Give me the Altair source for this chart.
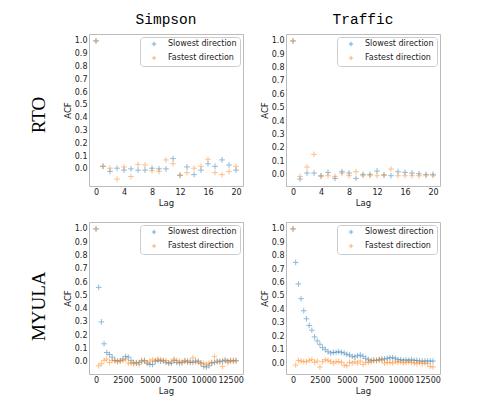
import altair as alt
import pandas as pd

SERIES = ["Slowest direction", "Fastest direction"]
COLORS = ["#1f77b4", "#ff7f0e"]

lag_short = list(range(0, 21))
lag_long = list(range(0, 13001, 250))

rto_simpson_slow = [1.0, 0.02, -0.02, 0.005, -0.01, 0.0, -0.01, -0.01, 0.005, 0.0, 0.0,
                    0.08, -0.05, 0.015, -0.045, -0.01, 0.04, 0.02, 0.07, 0.03, -0.01]
rto_simpson_fast = [1.0, 0.02, 0.005, -0.08, 0.015, -0.06, 0.035, 0.03, -0.015, -0.02, 0.07,
                    0.04, -0.05, -0.03, 0.005, 0.02, 0.075, -0.03, -0.045, -0.02, 0.02]
rto_traffic_slow = [1.0, -0.035, 0.01, 0.01, -0.01, 0.015, -0.03, 0.02, 0.01, -0.03, 0.0,
                    0.0, 0.025, -0.005, -0.01, 0.02, 0.015, 0.01, 0.005, 0.0, 0.0]
rto_traffic_fast = [1.0, -0.015, 0.055, 0.15, -0.015, -0.01, -0.015, 0.01, -0.01, 0.02, -0.01,
                    -0.01, -0.01, -0.005, 0.04, -0.01, -0.01, -0.01, -0.01, -0.01, -0.01]

myula_simpson_slow = [1.0, 0.56, 0.30, 0.135, 0.07, 0.055, 0.035, 0.01, 0.005, 0.01,
                      0.02, 0.04, 0.035, 0.01, -0.005, -0.01, -0.005, 0.005, 0.01, -0.01,
                      -0.02, -0.02, 0.005, 0.01, 0.005, 0.01, -0.005, -0.01, -0.01, 0.01,
                      -0.005, -0.01, -0.005, 0.005, 0.005, -0.005, -0.005, 0.005, 0.005, -0.01,
                      -0.035, -0.04, -0.03, -0.01, -0.005, 0.005, 0.0, 0.005, 0.01, 0.005,
                      0.01, 0.005, 0.01]
myula_simpson_fast = [1.0, -0.03, -0.015, 0.01, 0.02, -0.005, 0.01, 0.01, 0.0, 0.005,
                      0.01, 0.02, -0.01, -0.01, -0.015, -0.005, -0.02, 0.01, 0.005, -0.01,
                      0.005, 0.015, 0.005, 0.02, 0.015, 0.005, 0.01, -0.01, 0.0, 0.02,
                      0.01, 0.005, -0.005, 0.01, -0.005, 0.005, 0.03, 0.0, -0.005, -0.015,
                      -0.01, -0.02, -0.01, -0.005, 0.04, 0.0, 0.005, -0.035, 0.015, -0.005,
                      0.005, 0.01, 0.005]
myula_traffic_slow = [1.0, 0.75, 0.59, 0.48, 0.39, 0.33, 0.28, 0.245, 0.195, 0.165,
                      0.14, 0.115, 0.10, 0.085, 0.075, 0.08, 0.08, 0.085, 0.08, 0.075,
                      0.065, 0.06, 0.05, 0.045, 0.055, 0.06, 0.05, 0.035, 0.025, 0.02,
                      0.02, 0.02, 0.025, 0.03, 0.03, 0.035, 0.04, 0.04, 0.035, 0.025,
                      0.025, 0.02, 0.025, 0.02, 0.025, 0.02, 0.02, 0.015, 0.015, 0.015,
                      0.015, 0.015, 0.015]
myula_traffic_fast = [1.0, -0.015, 0.02, 0.015, 0.01, 0.01, 0.02, 0.025, 0.005, 0.015,
                      -0.03, 0.01, 0.025, 0.02, 0.01, 0.0, 0.01, 0.01, 0.005, -0.015,
                      -0.02, 0.005, 0.0, 0.01, 0.0, 0.015, -0.01, 0.005, 0.005, 0.01,
                      0.02, 0.02, 0.025, 0.02, 0.0, 0.005, 0.005, 0.0, 0.01, 0.005,
                      0.01, 0.0, 0.005, 0.01, 0.005, 0.0, -0.005, 0.005, -0.005, 0.0,
                      -0.005, -0.025, -0.03]

y_ticks = [0.0, 0.1, 0.2, 0.3, 0.4, 0.5, 0.6, 0.7, 0.8, 0.9, 1.0]
x_ticks_short = [0, 4, 8, 12, 16, 20]
x_ticks_long = [0, 2500, 5000, 7500, 10000, 12500]

PLUS = "M-1,0L1,0M0,-1L0,1"
W, H = 154, 152


def frame(lags, slow, fast):
    n = min(len(lags), len(slow), len(fast))
    rows = []
    for i in range(n):
        rows.append({"Lag": lags[i], "ACF": slow[i], "series": SERIES[0], "o": 0})
    for i in range(n):
        rows.append({"Lag": lags[i], "ACF": fast[i], "series": SERIES[1], "o": 1})
    return pd.DataFrame(rows)


def panel(df, xdom, ydom, xticks, title=None):
    props = dict(width=W, height=H)
    if title is not None:
        props["title"] = alt.TitleParams(title, font="Liberation Mono", fontSize=14.5,
                                         fontWeight="normal", color="black",
                                         anchor="middle", offset=7)
    return alt.Chart(df).mark_point(
        shape=PLUS, filled=False, strokeWidth=1, size=32, opacity=0.5
    ).encode(
        x=alt.X("Lag:Q", scale=alt.Scale(domain=xdom, nice=False, zero=False),
                axis=alt.Axis(values=xticks, title="Lag", format="d")),
        y=alt.Y("ACF:Q", scale=alt.Scale(domain=ydom, nice=False, zero=False),
                axis=alt.Axis(values=y_ticks, title="ACF", format=".1f")),
        color=alt.Color("series:N", scale=alt.Scale(domain=SERIES, range=COLORS),
                        legend=alt.Legend(title=None, orient="top-right")),
        order=alt.Order("o:Q"),
    ).properties(**props)


tl = panel(frame(lag_short, rto_simpson_slow, rto_simpson_fast), [-1, 21], [-0.134, 1.054],
           x_ticks_short, "Simpson")
tr = panel(frame(lag_short, rto_traffic_slow, rto_traffic_fast), [-1, 21], [-0.087, 1.052],
           x_ticks_short, "Traffic")
bl = panel(frame(lag_long, myula_simpson_slow, myula_simpson_fast), [-650, 13650],
           [-0.092, 1.052], x_ticks_long)
br = panel(frame(lag_long, myula_traffic_slow, myula_traffic_fast), [-650, 13650],
           [-0.0815, 1.0515], x_ticks_long)


def row_title(text, dx=0):
    return alt.TitleParams(text, orient="left", anchor="middle", font="Liberation Serif",
                           fontSize=19, fontWeight="normal", color="black", offset=14, dx=dx)


top = alt.hconcat(tl, tr, spacing=15).resolve_scale(color="independent").properties(
    title=row_title("RTO", dx=-6))
bottom = alt.hconcat(bl, br, spacing=15).resolve_scale(color="independent").properties(
    title=row_title("MYULA", dx=2))

chart = alt.vconcat(top, bottom, spacing=14).resolve_scale(color="independent").properties(
    padding={"left": 21, "top": 3, "right": 5, "bottom": 2}
).configure(
    background="white"
).configure_view(
    stroke="#bbbbbb", strokeWidth=1
).configure_axis(
    domain=False, ticks=False, grid=False,
    labelFont="DejaVu Sans", labelFontSize=8, labelColor="#222222", labelPadding=2,
    titleFont="DejaVu Sans", titleFontSize=8.5, titleColor="#222222", titleFontWeight="normal",
    titlePadding=2,
).configure_legend(
    labelFont="DejaVu Sans", labelFontSize=8, labelColor="#222222",
    strokeColor="#cccccc", fillColor="white", cornerRadius=3, padding=3, offset=3,
    symbolType=PLUS, symbolSize=20, symbolStrokeWidth=1, symbolOpacity=0.6,
    symbolOffset=7, labelOffset=10, rowPadding=4,
)

chart.save("out.html", embed_options={"renderer": "svg", "actions": False})
